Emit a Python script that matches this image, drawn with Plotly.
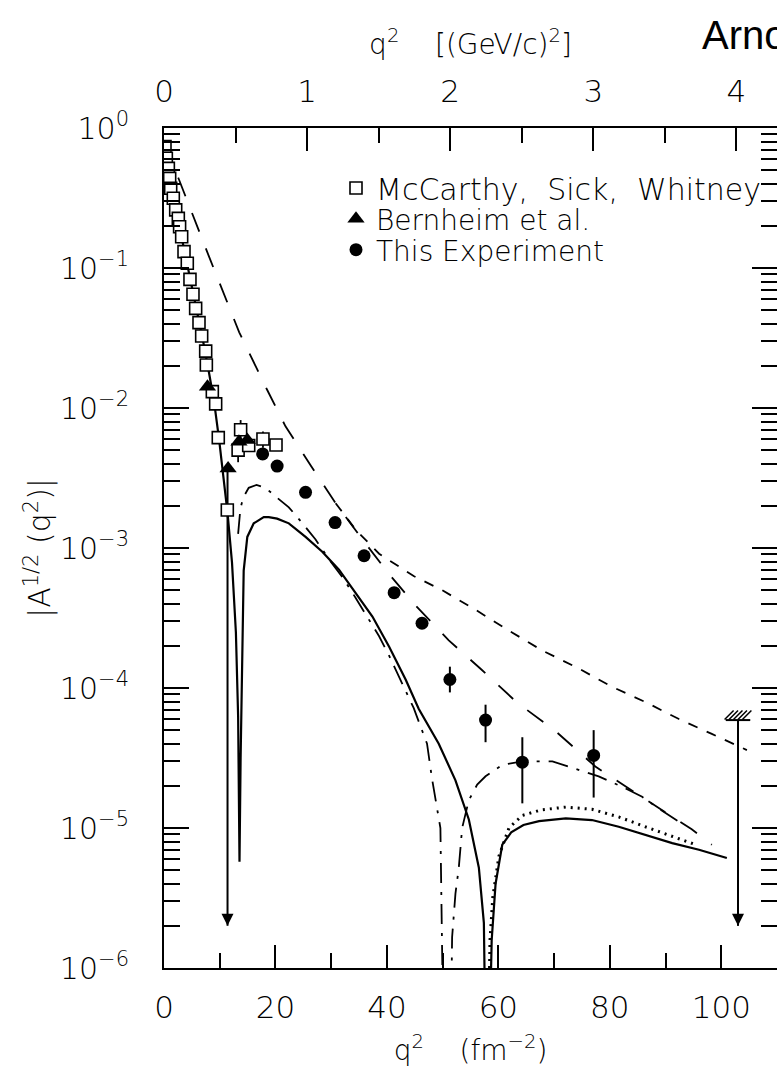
import numpy as np
import plotly.graph_objects as go

FM2_PER_GEV2 = 25.68  # 1 (GeV/c)^2 in fm^-2

# ---------------- data ----------------
# McCarthy, Sick, Whitney (open squares)
msw_q2 = [0.18, 0.42, 0.78, 1.02, 1.2, 1.67, 2.1, 2.57, 2.8, 3.17, 3.59, 4.18, 4.66, 5.2,
          5.68, 6.28, 6.76, 7.48, 7.6, 8.67, 9.27, 9.74, 11.36, 13.3, 13.75, 15.2, 17.76, 20.1]
msw_A = [0.736, 0.608, 0.515, 0.437, 0.371, 0.315, 0.26, 0.226, 0.197, 0.167, 0.131, 0.108,
         0.083, 0.065, 0.0515, 0.0407, 0.0327, 0.0255, 0.0203, 0.0131, 0.0107, 0.00614,
         0.00187, 0.0050, 0.0070, 0.0054, 0.0060, 0.00544]
msw_err = [0, 0, 0, 0, 0, 0, 0, 0, 0, 0, 0, 0, 0, 0, 0, 0, 0, 0, 0, 0, 0, 0,
           0, 0.0009, 0.0012, 0, 0.0008, 0]

# Bernheim et al. (filled triangles)
bern_q2 = [7.8, 11.5, 13.45, 14.95]
bern_A = [0.0142, 0.0037, 0.00575, 0.0059]

# This experiment (filled circles)
this_q2 = [17.7, 20.3, 25.4, 30.7, 35.9, 41.3, 46.3, 51.3, 57.7, 64.3, 77.1]
this_A = [4.7e-3, 3.85e-3, 2.5e-3, 1.52e-3, 8.8e-4, 4.8e-4, 2.9e-4, 1.15e-4, 5.9e-5, 2.95e-5, 3.3e-5]
this_err_up = [4e-4, 2e-4, 1.2e-4, 7e-5, 4e-5, 3e-5, 2e-5, 2.7e-5, 1.7e-5, 1.5e-5, 1.7e-5]
this_err_dn = [4e-4, 2e-4, 1.2e-4, 7e-5, 4e-5, 3e-5, 2e-5, 2.2e-5, 1.8e-5, 1.45e-5, 1.65e-5]

# upper-limit arrows
limit_q2 = [11.4, 103.0]
limit_top = [3.7e-3, 5.9e-5]
limit_tip = [2.0e-6, 2.0e-6]

# theory curves
solid_q2 = [0.0, 1.0, 2.0, 3.0, 4.0, 5.0, 6.0, 7.0, 8.0, 9.0, 9.9, 10.5, 11.4, 12.2, 12.9,
            13.3, 13.55, 13.75, 14.0, 14.3, 14.95, 16.1, 17.9, 18.8, 20.3, 22.4, 25.4, 28.4,
            31.4, 34.4, 37.4, 40.4, 43.4, 45.7, 49.3, 52.3, 54.7, 56.5, 57.4, 57.85, 58.15,
            58.8, 59.5, 60.7, 62.3, 64.5, 67.3, 72.1, 76.8, 81.6, 86.4, 91.2, 96.0, 101.0]
solid_A = [0.79, 0.447, 0.269, 0.178, 0.115, 0.0724, 0.0457, 0.0302, 0.0186, 0.011, 0.0059,
           0.00355, 0.00178, 7.9e-4, 2.5e-4, 6.3e-5, 5.75e-6, 3.2e-5, 1.86e-4, 6.9e-4, 1.2e-3,
           1.5e-3, 1.66e-3, 1.66e-3, 1.62e-3, 1.5e-3, 1.2e-3, 9.4e-4, 7.0e-4, 4.74e-4, 3.24e-4,
           1.97e-4, 1.14e-4, 7.1e-5, 4.0e-5, 2.19e-5, 1.15e-5, 5.2e-6, 2.1e-6, 1e-7, 1e-7,
           1.58e-6, 4.0e-6, 7.6e-6, 9.3e-6, 1.05e-5, 1.12e-5, 1.17e-5, 1.14e-5, 1.02e-5,
           8.9e-6, 7.8e-6, 7.0e-6, 6.1e-6]

dotted_q2 = [58.0, 58.5, 59.0, 60.1, 61.9, 64.3, 67.8, 72.1, 76.8, 81.6, 86.4, 91.2, 95.4]
dotted_A = [1e-7, 1.58e-6, 3.2e-6, 6.3e-6, 1.0e-5, 1.23e-5, 1.35e-5, 1.41e-5, 1.36e-5,
            1.2e-5, 1.02e-5, 8.7e-6, 7.6e-6]

dashdot_q2 = [13.3, 13.7, 14.2, 15.2, 16.6, 18.2, 20.0, 22.4, 24.8, 27.2, 29.6, 32.0, 34.4,
              36.8, 38.6, 40.4, 42.2, 44.8, 47.2, 48.1, 49.6, 49.9, 50.3, 51.3, 51.7, 52.3,
              52.9, 53.5, 54.7, 56.2, 57.7, 60.7, 64.3, 69.7, 72.6, 78.0, 82.2, 85.8, 89.1, 92.4]
dashdot_A = [1.26e-3, 1.9e-3, 2.29e-3, 2.69e-3, 2.82e-3, 2.69e-3, 2.34e-3, 1.95e-3, 1.51e-3,
             1.15e-3, 8.3e-4, 6.2e-4, 4.4e-4, 3.1e-4, 2.34e-4, 1.7e-4, 1.2e-4, 7.2e-5, 4.0e-5,
             2.24e-5, 1.0e-5, 2.5e-6, 1e-7, 1e-7, 1.66e-6, 3.4e-6, 5.2e-6, 1.0e-5, 1.58e-5,
             2.04e-5, 2.34e-5, 2.82e-5, 2.99e-5, 2.99e-5, 2.75e-5, 2.34e-5, 1.97e-5, 1.67e-5,
             1.35e-5, 1.11e-5]

longdash_q2 = [0.0, 2.7, 8.1, 13.5, 18.5, 21.8, 26.3, 30.8, 35.6, 40.4, 45.1, 51.1, 57.0,
               63.3, 70.3, 77.4, 84.6, 90.0, 94.7, 98.3]
longdash_A = [0.79, 0.427, 0.12, 0.0347, 0.0135, 7.4e-3, 3.9e-3, 2.09e-3, 1.15e-3, 6.5e-4,
              3.9e-4, 2.19e-4, 1.35e-4, 7.9e-5, 4.9e-5, 2.75e-5, 1.78e-5, 1.29e-5, 9.8e-6, 7.6e-6]

shortdash_q2 = [30.8, 34.4, 38.6, 44.8, 49.9, 56.0, 61.9, 67.8, 74.4, 80.4, 86.5, 92.4, 98.3, 104.6]
shortdash_A = [2.09e-3, 1.35e-3, 9.1e-4, 6.3e-4, 5.0e-4, 3.6e-4, 2.57e-4, 1.86e-4, 1.38e-4,
               1.02e-4, 7.9e-5, 6.0e-5, 4.7e-5, 3.6e-5]

# axis ticks
x_ticks = [0, 20, 40, 60, 80, 100]
x_minor = [10, 30, 50, 70, 90]
gev_ticks = [0, 1, 2, 3, 4]
gev_minor = [0.5, 1.5, 2.5, 3.5]
y_exps = [0, -1, -2, -3, -4, -5, -6]

# ---------------- figure ----------------
FONT = "DejaVu Sans"
W, H = 777, 1075
L, R, T, B = 164, 0, 128, 107
PW, PH = W - L - R, H - T - B


def px_to_paper_y(py):
    return 1 - (py - T) / PH


fig = go.Figure()

fig.add_trace(go.Scatter(x=longdash_q2, y=longdash_A, mode="lines", showlegend=False,
                         line=dict(color="black", width=1.8, dash="20px,18px"), hoverinfo="skip"))
fig.add_trace(go.Scatter(x=shortdash_q2, y=shortdash_A, mode="lines", showlegend=False,
                         line=dict(color="black", width=1.8, dash="10px,10px"), hoverinfo="skip"))
fig.add_trace(go.Scatter(x=dashdot_q2, y=dashdot_A, mode="lines", showlegend=False,
                         line=dict(color="black", width=1.8, dash="20px,9px,3px,9px"), hoverinfo="skip"))
fig.add_trace(go.Scatter(x=dotted_q2, y=dotted_A, mode="lines", showlegend=False,
                         line=dict(color="black", width=3, dash="2px,5px"), hoverinfo="skip"))
fig.add_trace(go.Scatter(x=solid_q2, y=solid_A, mode="lines", showlegend=False,
                         line=dict(color="black", width=2.2), hoverinfo="skip"))

# upper-limit arrows
for xq, yt, yb in zip(limit_q2, limit_top, limit_tip):
    fig.add_trace(go.Scatter(x=[xq, xq], y=[yt, yb], mode="lines", showlegend=False,
                             line=dict(color="black", width=2), hoverinfo="skip"))
fig.add_trace(go.Scatter(x=limit_q2, y=limit_tip, mode="markers", showlegend=False, hoverinfo="skip",
                         marker=dict(symbol="arrow-down", size=12, color="black",
                                     line=dict(width=0))))
# hatched cap on the right-hand limit
bar_half = 2.2
fig.add_trace(go.Scatter(x=[limit_q2[1] - bar_half, limit_q2[1] + bar_half],
                         y=[limit_top[1], limit_top[1]], mode="lines", showlegend=False,
                         line=dict(color="black", width=2), hoverinfo="skip"))
hatch_x = np.linspace(limit_q2[1] - bar_half + 0.6, limit_q2[1] + bar_half - 0.6, 5)
hatch_y = [limit_top[1] * 10 ** (5 / 140.0)] * len(hatch_x)
fig.add_trace(go.Scatter(x=hatch_x, y=hatch_y, mode="markers", showlegend=False, hoverinfo="skip",
                         marker=dict(symbol="line-ne", size=9, line=dict(color="black", width=1.5))))

# data points
fig.add_trace(go.Scatter(x=msw_q2, y=msw_A, mode="markers", name="McCarthy,  Sick,  Whitney",
                         legend="legend",
                         error_y=dict(type="data", array=msw_err, color="black", thickness=1.8, width=0),
                         marker=dict(symbol="square", size=12, color="white",
                                     line=dict(color="black", width=1.6))))
fig.add_trace(go.Scatter(x=bern_q2, y=bern_A, mode="markers", name="Bernheim et al.",
                         legend="legend2",
                         marker=dict(symbol="triangle-up", size=15, color="black")))
fig.add_trace(go.Scatter(x=this_q2, y=this_A, mode="markers", name="This Experiment",
                         legend="legend3",
                         error_y=dict(type="data", array=this_err_up, arrayminus=this_err_dn,
                                      color="black", thickness=2, width=0),
                         marker=dict(symbol="circle", size=13, color="black")))

# dummy trace for the top axis
fig.add_trace(go.Scatter(x=[0], y=[1e-3], xaxis="x2", mode="markers", showlegend=False,
                         marker=dict(opacity=0), hoverinfo="skip"))

xtickfont = dict(family=FONT, size=31, color="black", weight=200)
ytickfont = dict(family=FONT, size=30, color="black", weight=200)
legfont = dict(family=FONT, size=28, color="black", weight=200)
leg_x = (336 - L) / PW
legend_common = dict(x=leg_x, xanchor="left", yanchor="middle", bgcolor="rgba(0,0,0,0)",
                     itemsizing="trace", borderwidth=0)

fig.update_layout(
    template="none",
    width=W, height=H,
    margin=dict(l=L, r=R, t=T, b=B),
    paper_bgcolor="white", plot_bgcolor="white",
    font=dict(family=FONT, size=28, color="black", weight=200),
    xaxis=dict(range=[0, 110], tickvals=x_ticks, ticks="inside", ticklen=23, tickwidth=1.5,
               tickcolor="black", showline=True, linewidth=2, linecolor="black", mirror=False,
               showgrid=False, zeroline=False, tickfont=xtickfont, ticklabelstandoff=11,
               minor=dict(tickvals=x_minor, ticks="inside", ticklen=15, tickwidth=1.5,
                          tickcolor="black", showgrid=False),
               title=dict(text="q<sup>2</sup>    (fm<sup>−2</sup>)", standoff=16,
                          font=dict(family=FONT, size=28, color="black", weight=200))),
    xaxis2=dict(overlaying="x", side="top", range=[0, 110 / FM2_PER_GEV2], tickvals=gev_ticks,
                ticktext=[str(v) for v in gev_ticks], ticks="inside", ticklen=23, tickwidth=1.5,
                tickcolor="black", showline=True, linewidth=2, linecolor="black",
                showgrid=False, zeroline=False, tickfont=xtickfont, ticklabelstandoff=12,
                minor=dict(tickvals=gev_minor, ticks="inside", ticklen=15, tickwidth=1.5,
                           tickcolor="black", showgrid=False),
                title=dict(text="q<sup>2</sup>    [(GeV/c)<sup>2</sup>]", standoff=10,
                           font=dict(family=FONT, size=28, color="black", weight=200))),
    yaxis=dict(type="log", range=[-6, 0], tickvals=[10.0 ** e for e in y_exps],
               ticktext=["10<sup>%s</sup>" % (str(e).replace("-", "−")) for e in y_exps],
               ticks="inside", ticklen=25, tickwidth=1.5, tickcolor="black",
               showline=True, linewidth=2, linecolor="black", mirror="ticks",
               showgrid=False, zeroline=False, tickfont=ytickfont, ticklabelstandoff=27,
               minor=dict(tickvals=[m * 10.0 ** e for e in range(-6, 0) for m in range(2, 10)],
                          ticks="inside", ticklen=16, tickwidth=1.5, tickcolor="black",
                          showgrid=False),
               title=dict(text="|A<sup>1/2</sup> (q<sup>2</sup>)|", standoff=0,
                          font=dict(family=FONT, size=30, color="black", weight=200))),
    legend=dict(y=px_to_paper_y(188), font=dict(family=FONT, size=30, color="black", weight=200),
                **legend_common),
    legend2=dict(y=px_to_paper_y(219), font=legfont, **legend_common),
    legend3=dict(y=px_to_paper_y(250), font=legfont, **legend_common),
    showlegend=True,
)

fig.add_annotation(text="Arnold et al.", xref="paper", yref="paper",
                   x=(700 - L) / PW, y=px_to_paper_y(35), xanchor="left", yanchor="middle",
                   showarrow=False, font=dict(family="Liberation Sans", size=40, color="black"))

fig.write_html("out.html")
